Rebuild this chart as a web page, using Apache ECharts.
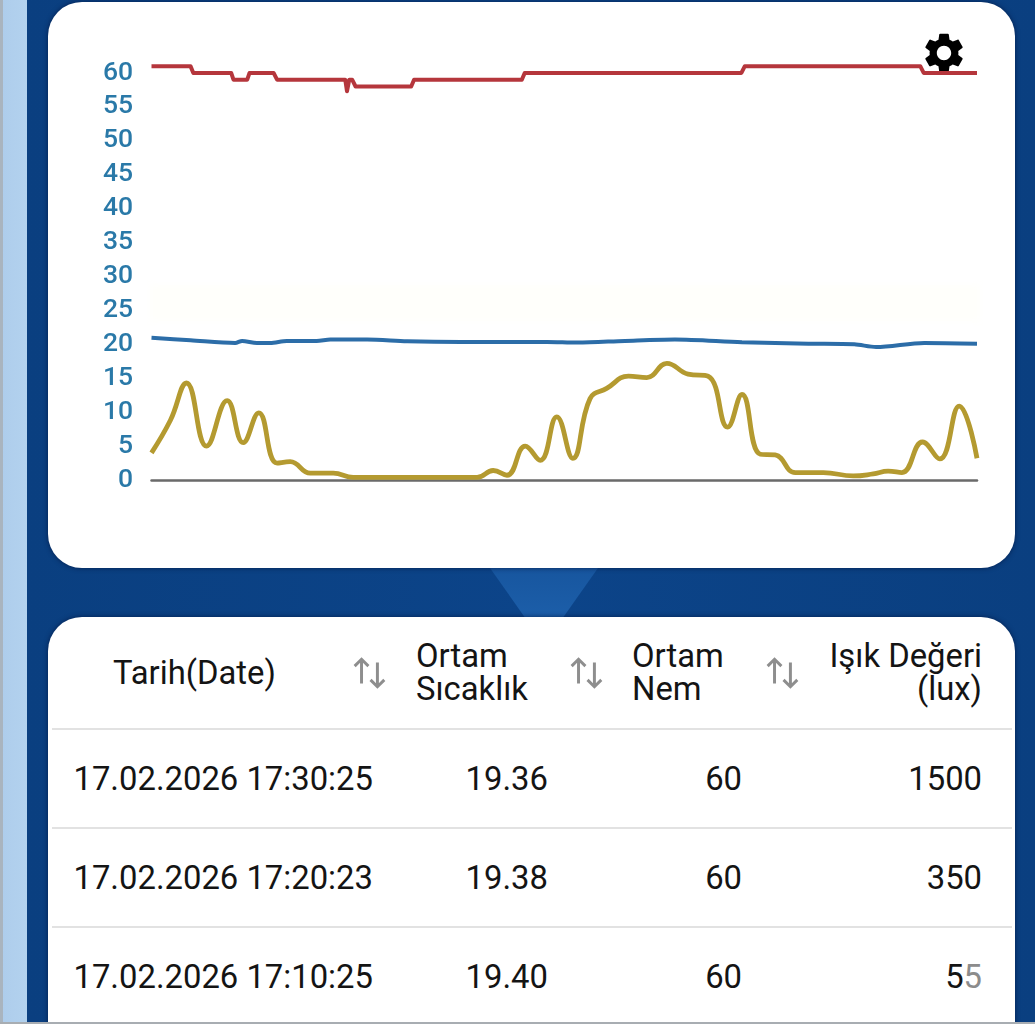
<!DOCTYPE html>
<html lang="tr"><head><meta charset="utf-8">
<style>
html,body{margin:0;padding:0;width:1035px;height:1024px;overflow:hidden;background:#0d4486;font-family:Roboto,sans-serif;color:#141414}
.abs{position:absolute}
#stripe{left:0;top:0;width:27px;height:1024px;background:linear-gradient(90deg,#a9b4bf 0,#a9b4bf 3px,#aecdec 3px,#b3d2ee 27px)}
#page{left:27px;top:0;width:1008px;height:1024px;background:linear-gradient(90deg,#0a3f80 0,#0c4489 50%,#0a3f80 100%)}
#tri{left:490px;top:568px;width:108px;height:49px;background:linear-gradient(180deg,#17569f,#1c5ea9);clip-path:polygon(0 0,100% 0,68% 100%,32% 100%)}
.card{background:#fff;left:48px;width:967px;border-radius:34px;box-shadow:0 0 5px rgba(0,20,60,.75)}
#c1{top:2px;height:566px}
#c2{top:617px;height:460px}
#band{left:150px;top:285px;width:830px;height:36px;background:#fffffb;filter:blur(3px)}
#gear{left:920px;top:29px;width:48px;height:48px}
#chart{left:0;top:0;width:1035px;height:600px}
.rule{left:52px;width:960px;height:2px;background:#e2e2e2}
.t{font-size:32.8px;line-height:33px;white-space:nowrap}
.r{text-align:right}
.arrows{width:36px;height:34px}
#bottom{left:0;top:1022px;width:1035px;height:2px;background:#a8adb2}
</style></head><body>
<div class="abs" id="page"></div><div class="abs" id="stripe"></div><div class="abs" id="tri"></div>
<div class="abs card" id="c1"></div>
<div class="abs" id="band"></div>
<svg class="abs" id="gear" viewBox="0 0 24 24"><path fill="#000" d="M19.14 12.94c.04-.3.06-.61.06-.94 0-.32-.02-.64-.07-.94l2.03-1.58c.18-.14.23-.41.12-.61l-1.92-3.32c-.12-.22-.37-.29-.59-.22l-2.39.96c-.5-.38-1.03-.7-1.62-.94l-.36-2.54c-.04-.24-.24-.41-.48-.41h-3.84c-.24 0-.43.17-.47.41l-.36 2.54c-.59.24-1.13.57-1.62.94l-2.39-.96c-.22-.08-.47 0-.59.22L2.74 8.87c-.12.21-.08.47.12.61l2.03 1.58c-.05.3-.09.63-.09.94s.02.64.07.94l-2.03 1.58c-.18.14-.23.41-.12.61l1.92 3.32c.12.22.37.29.59.22l2.39-.96c.5.38 1.03.7 1.62.94l.36 2.54c.05.24.24.41.48.41h3.84c.24 0 .44-.17.47-.41l.36-2.54c.59-.24 1.13-.56 1.62-.94l2.39.96c.22.08.47 0 .59-.22l1.92-3.32c.12-.22.07-.47-.12-.61l-2.01-1.58zM12 15.6c-1.98 0-3.6-1.62-3.6-3.6s1.62-3.6 3.6-3.6 3.6 1.62 3.6 3.6-1.62 3.6-3.6 3.6z"/></svg>
<div class="abs" id="chart"></div>
<div class="abs card" id="c2"></div>
<div id="table"></div>
<div class="abs" id="bottom"></div>
<script src="https://cdn.jsdelivr.net/npm/echarts@6/dist/echarts.min.js"></script>
<script>
const tickLabels = [0,5,10,15,20,25,30,35,40,45,50,55,60];

const humidityX = [0,6.8,7.3,13.9,14.3,16.7,17.1,21.3,21.9,33.8,34.1,34.5,35,35.6,45.3,45.8,64.6,65.1,102.9,103.5,134.1,134.7,144];
const humidityY = [61,61,60,60,59,59,60,60,59,59,57.3,59,59,58,58,59,59,60,60,61,61,60,60];

const temperatureX = [0,6.8,14.6,15.8,18.4,20.7,23.6,28.8,31.2,37.6,44.6,54,69,74.3,82.6,91.3,103,114.6,122.6,126.4,134.8,144];
const temperatureY = [20.95,20.6,20.2,20.5,20.2,20.2,20.5,20.5,20.7,20.7,20.45,20.35,20.35,20.25,20.5,20.7,20.3,20.1,20,19.6,20.2,20.1];

const lightX = [0,3.3,6.1,9.6,13.2,16,18.7,21.9,24.2,27.7,31.7,35.2,45,56.8,59.6,62,65.2,67.8,70.7,73.5,76.5,79.4,83.2,86.4,89.9,93.6,97.1,100.5,103,106.2,108.8,112.3,117.2,122.4,125.9,128.5,130.9,134.5,137.5,140.9,144];
const lightY = [4,8.8,14.3,5,11.7,5.5,9.9,2.5,2.7,1,1,0.4,0.4,0.4,1.4,0.7,5,2.9,9.3,3.2,12,13.5,15.3,15.1,17.2,15.6,15.3,7.8,12.6,3.8,3.7,1.1,1.1,0.6,0.9,1.3,1.1,5.6,3.1,10.9,3.2];

const headers = [
  {lines:['Tarih(Date)'], align:'l', x:113, y:673},
  {lines:['Ortam','Sıcaklık'], align:'l', x:416, y:673},
  {lines:['Ortam','Nem'], align:'l', x:632, y:673},
  {lines:['Işık Değeri','(lux)'], align:'r', x:982, y:673}
];
const sortArrowX = [370,587,783];
const rowDates = ['17.02.2026 17:30:25','17.02.2026 17:20:23','17.02.2026 17:10:25'];
const rowTemps = ['19.36','19.38','19.40'];
const rowHums = ['60','60','60'];
const rowLux = ['1500','350','55'];
const rowCenters = [779,878,977];
const ruleYs = [729,828,927];

const zip = (a,b)=>a.map((v,i)=>[v,b[i]]);
const chart = echarts.init(document.getElementById('chart'),null,{renderer:'canvas'});
chart.setOption({
  animation:false,
  backgroundColor:'transparent',
  grid:{left:151.5,right:58,top:39,bottom:120},
  xAxis:{type:'value',min:0,max:144,axisLabel:{show:false},axisTick:{show:false},splitLine:{show:false},
    axisLine:{show:true,onZero:true,lineStyle:{color:'#6a6a6a',width:2.5}}},
  yAxis:{type:'value',min:0,max:65,interval:5,axisLine:{show:false},axisTick:{show:false},splitLine:{show:false},
    axisLabel:{color:'#2a79a8',fontFamily:'Roboto',fontWeight:500,fontSize:26.5,margin:18.5,
      formatter:v=>tickLabels.includes(v)?String(v):''}},
  series:[
    {name:'Ortam Nem',type:'line',showSymbol:false,data:zip(humidityX,humidityY),
      lineStyle:{color:'#b5363c',width:4,join:'round',cap:'butt'},z:3},
    {name:'Ortam Sıcaklık',type:'line',showSymbol:false,smooth:0.3,data:zip(temperatureX,temperatureY),
      lineStyle:{color:'#2c6da8',width:4,cap:'butt'},z:3},
    {name:'Işık Değeri',type:'line',showSymbol:false,smooth:0.45,data:zip(lightX,lightY),
      lineStyle:{color:'#b49a30',width:4.8,cap:'butt'},z:4}
  ]
});

const root = document.getElementById('table');
function addText(txt,x,y,right,html){
  const d=document.createElement('div');
  d.className='abs t'+(right?' r':'');
  if(right){d.style.right=(1035-x)+'px';}else{d.style.left=x+'px';}
  d.style.top=(y-16.5)+'px';
  if(html)d.innerHTML=html;else d.textContent=txt;
  root.appendChild(d);
}
headers.forEach(h=>{
  const n=h.lines.length;
  h.lines.forEach((l,i)=>addText(l,h.x,h.y+(i-(n-1)/2)*33,h.align==='r'));
});
sortArrowX.forEach(x=>{
  const s=document.createElementNS('http://www.w3.org/2000/svg','svg');
  s.setAttribute('class','abs arrows');s.setAttribute('viewBox','0 0 34 32');
  s.style.left=(x-18)+'px';s.style.top='656px';
  s.innerHTML='<path d="M9 26V3M2.500 9.500L9 3l6.500 6.500" fill="none" stroke="#8e8e8e" stroke-width="2.800"/><path d="M24 6v23M17.500 22.500L24 29l6.500-6.500" fill="none" stroke="#8e8e8e" stroke-width="2.800"/>';
  root.appendChild(s);
});
ruleYs.forEach(y=>{const d=document.createElement('div');d.className='abs rule';d.style.top=(y-1)+'px';root.appendChild(d);});
rowCenters.forEach((y,i)=>{
  addText(rowDates[i],73.5,y,false);
  addText(rowTemps[i],548,y,true);
  addText(rowHums[i],742,y,true);
  if(rowLux[i]==='55') addText('',982,y,true,'5<span style="color:#8c8c8c">5</span>');
  else addText(rowLux[i],982,y,true);
});
</script>
</body></html>
